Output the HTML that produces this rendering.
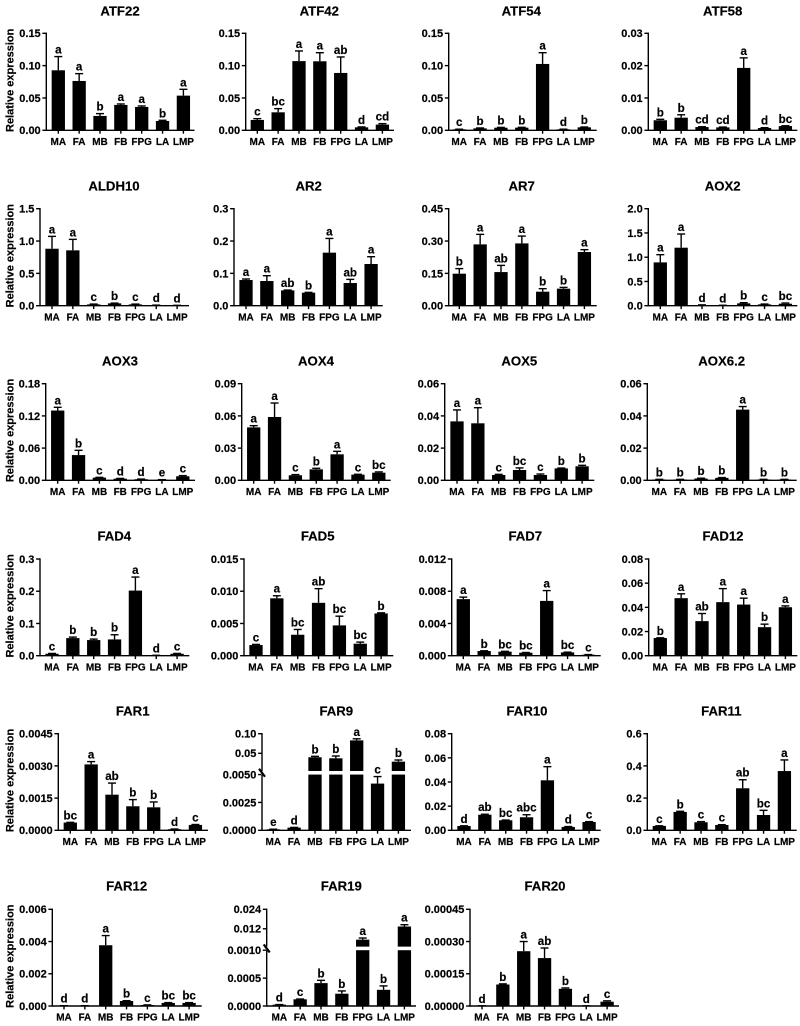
<!DOCTYPE html>
<html lang="en">
<head>
<meta charset="utf-8">
<title>Relative expression of 23 genes</title>
<style>
  html, body { margin: 0; padding: 0; background: #fff; }
  #figure { display: block; width: 800px; height: 1026px; filter: blur(0.25px); }
  text { font-family: "Liberation Sans", Arial, sans-serif; font-weight: bold; fill: #000; stroke: #000; stroke-width: 0.18px; }
</style>
</head>
<body>
<svg id="figure" xmlns="http://www.w3.org/2000/svg" width="800" height="1026" viewBox="0 0 800 1026"></svg>
<script>
/* ---------- shared data ---------- */
const tissues = ["MA", "FA", "MB", "FB", "FPG", "LA", "LMP"];
const yAxisTitle = "Relative expression";

/* ---------- per-chart data ---------- */
const atf22Values = [0.0928, 0.0763, 0.0222, 0.0392, 0.0361, 0.0144, 0.0536];
const atf22Errors = [0.0212, 0.0113, 0.0036, 0.0015, 0.0015, 0.0011, 0.0098];
const atf22Letters = ["a", "a", "b", "a", "a", "b", "a"];
const atf22Ticks = ["0.00", "0.05", "0.10", "0.15"];

const atf42Values = [0.016, 0.0278, 0.107, 0.1067, 0.0887, 0.0046, 0.0088];
const atf42Errors = [0.002, 0.0057, 0.0157, 0.0133, 0.0247, 0.0006, 0.0015];
const atf42Letters = ["c", "bc", "a", "a", "ab", "d", "cd"];
const atf42Ticks = ["0.00", "0.05", "0.10", "0.15"];

const atf54Values = [0.0015, 0.003, 0.004, 0.0041, 0.1026, 0.0015, 0.0046];
const atf54Errors = [0.0002, 0.0006, 0.0005, 0.0005, 0.0174, 0.0002, 0.0005];
const atf54Letters = ["c", "b", "b", "b", "a", "d", "b"];
const atf54Ticks = ["0.00", "0.05", "0.10", "0.15"];

const atf58Values = [0.0031, 0.0039, 0.001, 0.0009, 0.0193, 0.0007, 0.0013];
const atf58Errors = [0.0003, 0.0009, 0.0001, 0.0001, 0.0031, 0.0001, 0.0001];
const atf58Letters = ["b", "b", "cd", "cd", "a", "d", "bc"];
const atf58Ticks = ["0.00", "0.01", "0.02", "0.03"];

const aldh10Values = [0.881, 0.856, 0.02, 0.036, 0.02, 0.008, 0.005];
const aldh10Errors = [0.191, 0.17, 0.005, 0.004, 0.005, 0.001, 0.001];
const aldh10Letters = ["a", "a", "c", "b", "c", "d", "d"];
const aldh10Ticks = ["0.0", "0.5", "1.0", "1.5"];

const ar2Values = [0.0794, 0.0763, 0.0474, 0.0402, 0.164, 0.0701, 0.129];
const ar2Errors = [0.0031, 0.0165, 0.001, 0.001, 0.044, 0.0113, 0.0225];
const ar2Letters = ["a", "a", "ab", "b", "a", "ab", "a"];
const ar2Ticks = ["0.0", "0.1", "0.2", "0.3"];

const ar7Values = [0.1485, 0.2845, 0.156, 0.289, 0.065, 0.079, 0.249];
const ar7Errors = [0.0235, 0.0465, 0.031, 0.034, 0.014, 0.006, 0.011];
const ar7Letters = ["b", "a", "ab", "a", "b", "b", "a"];
const ar7Ticks = ["0.00", "0.15", "0.30", "0.45"];

const aox2Values = [0.893, 1.196, 0.014, 0.007, 0.048, 0.027, 0.041];
const aox2Errors = [0.159, 0.282, 0.003, 0.002, 0.014, 0.007, 0.014];
const aox2Letters = ["a", "a", "d", "d", "b", "c", "bc"];
const aox2Ticks = ["0.0", "0.5", "1.0", "1.5", "2.0"];

const aox3Values = [0.13, 0.047, 0.005, 0.003, 0.002, 0.001, 0.0075];
const aox3Errors = [0.006, 0.0089, 0.0005, 0.0005, 0.0003, 0.0002, 0.0012];
const aox3Letters = ["a", "b", "c", "d", "d", "e", "c"];
const aox3Ticks = ["0.00", "0.06", "0.12", "0.18"];

const aox4Values = [0.0493, 0.059, 0.0047, 0.0102, 0.0242, 0.0053, 0.0071];
const aox4Errors = [0.0016, 0.013, 0.0006, 0.001, 0.0028, 0.0003, 0.0007];
const aox4Letters = ["a", "a", "c", "b", "a", "c", "bc"];
const aox4Ticks = ["0.00", "0.03", "0.06", "0.09"];

const aox5Values = [0.0366, 0.0354, 0.0033, 0.0064, 0.0033, 0.0074, 0.0087];
const aox5Errors = [0.0071, 0.0097, 0.0004, 0.0013, 0.0006, 0.0002, 0.0006];
const aox5Letters = ["a", "a", "c", "bc", "c", "b", "b"];
const aox5Ticks = ["0.00", "0.02", "0.04", "0.06"];

const aox62Values = [0.0005, 0.0005, 0.0011, 0.0015, 0.0439, 0.0005, 0.0005];
const aox62Errors = [0.0001, 0.0001, 0.0002, 0.0002, 0.0019, 0.0001, 0.0001];
const aox62Letters = ["b", "b", "b", "b", "a", "b", "b"];
const aox62Ticks = ["0.00", "0.02", "0.04", "0.06"];

const fad4Values = [0.006, 0.0546, 0.0485, 0.0505, 0.202, 0.001, 0.006];
const fad4Errors = [0.001, 0.0031, 0.003, 0.0145, 0.042, 0.0003, 0.001];
const fad4Letters = ["c", "b", "b", "b", "a", "d", "c"];
const fad4Ticks = ["0.0", "0.1", "0.2", "0.3"];

const fad5Values = [0.00165, 0.0089, 0.00325, 0.0082, 0.0047, 0.00186, 0.00655];
const fad5Errors = [0.0001, 0.0004, 0.00082, 0.0022, 0.00143, 0.00025, 0.0001];
const fad5Letters = ["c", "a", "bc", "ab", "bc", "bc", "b"];
const fad5Ticks = ["0.000", "0.005", "0.010", "0.015"];

const fad7Values = [0.00702, 0.00058, 0.0005, 0.00037, 0.0068, 0.00041, 0.00012];
const fad7Errors = [0.00025, 0.00003, 0.00004, 0.00003, 0.00128, 0.00003, 0.00002];
const fad7Letters = ["a", "b", "bc", "bc", "a", "bc", "c"];
const fad7Ticks = ["0.000", "0.004", "0.008", "0.012"];

const fad12Values = [0.0146, 0.0476, 0.0286, 0.0443, 0.0423, 0.0236, 0.0401];
const fad12Errors = [0.0002, 0.0036, 0.0063, 0.0112, 0.0053, 0.0025, 0.0011];
const fad12Letters = ["b", "a", "ab", "a", "a", "b", "a"];
const fad12Ticks = ["0.00", "0.02", "0.04", "0.06", "0.08"];

const far1Values = [0.00036, 0.00307, 0.00166, 0.00112, 0.00107, 0.00005, 0.00025];
const far1Errors = [0.00001, 0.00013, 0.00054, 0.00031, 0.00025, 0.00001, 0.00002];
const far1Letters = ["bc", "a", "ab", "b", "b", "d", "c"];
const far1Ticks = ["0.0000", "0.0015", "0.0030", "0.0045"];

const far9Values = [0.00009, 0.00024, 0.04, 0.0373, 0.083, 0.00419, 0.0288];
const far9Errors = [0.00001, 0.00002, 0.0023, 0.0059, 0.004, 0.00063, 0.0042];
const far9Letters = ["e", "d", "b", "b", "a", "c", "b"];
const far9Ticks = ["0.0000", "0.0025", "0.0050", "0.05", "0.10"];
const far9AxisBreak = 0.005;

const far10Values = [0.0036, 0.0129, 0.0083, 0.0108, 0.0414, 0.0028, 0.0069];
const far10Errors = [0.0001, 0.0004, 0.0002, 0.0021, 0.0113, 0.0003, 0.0003];
const far10Letters = ["d", "ab", "bc", "abc", "a", "d", "c"];
const far10Ticks = ["0.00", "0.02", "0.04", "0.06", "0.08"];

const far11Values = [0.027, 0.114, 0.05, 0.033, 0.261, 0.095, 0.368];
const far11Errors = [0.001, 0.004, 0.004, 0.002, 0.053, 0.029, 0.069];
const far11Letters = ["c", "b", "c", "c", "ab", "bc", "a"];
const far11Ticks = ["0.0", "0.2", "0.4", "0.6"];

const far12Values = [0.00002, 0.00002, 0.00377, 0.00031, 0.00006, 0.00019, 0.00019];
const far12Errors = [0, 0, 0.0006, 0.00002, 0.00001, 0.00002, 0.00002];
const far12Letters = ["d", "d", "a", "b", "c", "bc", "bc"];
const far12Ticks = ["0.000", "0.002", "0.004", "0.006"];

const far19Values = [0.000024, 0.00012, 0.00041, 0.00022, 0.0053, 0.00029, 0.0134];
const far19Errors = [0.000002, 0.000005, 0.00005, 0.00005, 0.001, 0.00007, 0.0011];
const far19Letters = ["d", "c", "b", "b", "a", "b", "a"];
const far19Ticks = ["0.0000", "0.0005", "0.0010", "0.012", "0.024"];
const far19AxisBreak = 0.001;

const far20Values = [0.000001, 0.0001, 0.000255, 0.000223, 0.00008, 0.000001, 0.00002];
const far20Errors = [0, 0.000003, 0.000045, 0.000047, 0.000004, 0, 0.000004];
const far20Letters = ["d", "b", "a", "ab", "b", "d", "c"];
const far20Ticks = ["0.00000", "0.00015", "0.00030", "0.00045"];

/* ---------- chart list (data) ---------- */
const charts = [
  { title: "ATF22", values: atf22Values, errors: atf22Errors, letters: atf22Letters, ticks: atf22Ticks },
  { title: "ATF42", values: atf42Values, errors: atf42Errors, letters: atf42Letters, ticks: atf42Ticks },
  { title: "ATF54", values: atf54Values, errors: atf54Errors, letters: atf54Letters, ticks: atf54Ticks },
  { title: "ATF58", values: atf58Values, errors: atf58Errors, letters: atf58Letters, ticks: atf58Ticks },
  { title: "ALDH10", values: aldh10Values, errors: aldh10Errors, letters: aldh10Letters, ticks: aldh10Ticks },
  { title: "AR2", values: ar2Values, errors: ar2Errors, letters: ar2Letters, ticks: ar2Ticks },
  { title: "AR7", values: ar7Values, errors: ar7Errors, letters: ar7Letters, ticks: ar7Ticks },
  { title: "AOX2", values: aox2Values, errors: aox2Errors, letters: aox2Letters, ticks: aox2Ticks },
  { title: "AOX3", values: aox3Values, errors: aox3Errors, letters: aox3Letters, ticks: aox3Ticks },
  { title: "AOX4", values: aox4Values, errors: aox4Errors, letters: aox4Letters, ticks: aox4Ticks },
  { title: "AOX5", values: aox5Values, errors: aox5Errors, letters: aox5Letters, ticks: aox5Ticks },
  { title: "AOX6.2", values: aox62Values, errors: aox62Errors, letters: aox62Letters, ticks: aox62Ticks },
  { title: "FAD4", values: fad4Values, errors: fad4Errors, letters: fad4Letters, ticks: fad4Ticks },
  { title: "FAD5", values: fad5Values, errors: fad5Errors, letters: fad5Letters, ticks: fad5Ticks },
  { title: "FAD7", values: fad7Values, errors: fad7Errors, letters: fad7Letters, ticks: fad7Ticks },
  { title: "FAD12", values: fad12Values, errors: fad12Errors, letters: fad12Letters, ticks: fad12Ticks },
  { title: "FAR1", values: far1Values, errors: far1Errors, letters: far1Letters, ticks: far1Ticks },
  { title: "FAR9", values: far9Values, errors: far9Errors, letters: far9Letters, ticks: far9Ticks, axisBreak: far9AxisBreak },
  { title: "FAR10", values: far10Values, errors: far10Errors, letters: far10Letters, ticks: far10Ticks },
  { title: "FAR11", values: far11Values, errors: far11Errors, letters: far11Letters, ticks: far11Ticks },
  { title: "FAR12", values: far12Values, errors: far12Errors, letters: far12Letters, ticks: far12Ticks },
  { title: "FAR19", values: far19Values, errors: far19Errors, letters: far19Letters, ticks: far19Ticks, axisBreak: far19AxisBreak },
  { title: "FAR20", values: far20Values, errors: far20Errors, letters: far20Letters, ticks: far20Ticks }
];

/* ---------- layout (separate from data) ---------- */
const ROWS_PER_COLUMN = 4;
const rowFrames = [
  { top: 33.3, bottom: 130.3, titleY: 15.3 },
  { top: 208.7, bottom: 305.7, titleY: 190.3 },
  { top: 383.7, bottom: 480.3, titleY: 365.3 },
  { top: 559, bottom: 655.7, titleY: 540.3 },
  { top: 733.7, bottom: 830.3, titleY: 715.3 },
  { top: 909.3, bottom: 1006, titleY: 890.6 }
];
const frameX = [
  [46.3, 58.3, 194.5, 120], [245.7, 257.3, 394, 319.3], [448.7, 459.2, 596.7, 521.3], [648.3, 660.3, 797.3, 722.7],
  [40, 52, 189, 114], [234, 246, 382.7, 308.7], [448.7, 459.3, 596.7, 521.7], [648.3, 660.3, 797.3, 722.7],
  [45.7, 57.7, 195, 120], [241.7, 253.7, 390.7, 316], [444.7, 457, 594.3, 519.3], [647.3, 659.3, 796.7, 721.7],
  [40, 52, 189.3, 114.3], [244, 256, 393.3, 317.7], [451.7, 463.3, 600.7, 525.3], [648.7, 660.3, 797.3, 723],
  [58.3, 70.3, 208, 132.7], [262, 273.3, 411, 336.3], [451.7, 464, 600.7, 527], [647.3, 659.3, 796.7, 721.3],
  [52.3, 64, 201.7, 126.7], [266.7, 279.3, 416, 341.3], [470, 482, 619, 545]
];
const BAR_STEP = 20.85;
const BAR_WIDTH = 13.3;
const CAP_WIDTH = 8;
const LINE_WIDTH = 1.4;
const LOWER_SEGMENT_FRACTION = 0.577;
const UPPER_SEGMENT_FRACTION = 0.614;

/* ---------- drawing ---------- */
const SVG_NS = "http://www.w3.org/2000/svg";
const svgRoot = document.getElementById("figure");

function makeShape(tag, parent, props) {
  const node = document.createElementNS(SVG_NS, tag);
  for (const key in props) node.setAttribute(key, props[key]);
  parent.appendChild(node);
  return node;
}

function makeYScale(chart, top, bottom) {
  const height = bottom - top;
  const maxValue = Number(chart.ticks[chart.ticks.length - 1]);
  if (chart.axisBreak === undefined) {
    return function (v) { return bottom - (v / maxValue) * height; };
  }
  const brk = chart.axisBreak;
  return function (v) {
    if (v <= brk) return bottom - (v / brk) * height * LOWER_SEGMENT_FRACTION;
    return bottom - height * UPPER_SEGMENT_FRACTION - ((v - brk) / (maxValue - brk)) * height * (1 - UPPER_SEGMENT_FRACTION);
  };
}

charts.forEach(function (chart, chartIndex) {
  const rowIndex = Math.floor(chartIndex / ROWS_PER_COLUMN);
  const frame = rowFrames[rowIndex];
  const xs = frameX[chartIndex];
  const axisX = xs[0], firstBarX = xs[1], axisEndX = xs[2], titleX = xs[3];
  const top = frame.top, bottom = frame.bottom;
  const y = makeYScale(chart, top, bottom);
  const x = function (i) { return firstBarX + i * BAR_STEP; };
  const slug = chart.title.toLowerCase().replace(/\./g, "-");

  const group = makeShape("g", svgRoot, {});
  
  

  const title = makeShape("text", group, { x: titleX, y: frame.titleY, "text-anchor": "middle", "font-size": "13.2" });
  title.textContent = chart.title;
  
  

  if (chartIndex % ROWS_PER_COLUMN === 0) {
    const midY = (top + bottom) / 2 - 1.5;
    const yTitle = makeShape("text", group, { x: 0, y: 0, "text-anchor": "middle", "font-size": "11", transform: "translate(13.6 " + midY + ") rotate(-90)" });
    yTitle.textContent = yAxisTitle;
    
    
  }

  /* bars */
  chart.values.forEach(function (value, i) {
    const cx = x(i);
    const pieces = [];
    if (chart.axisBreak !== undefined && value > chart.axisBreak) {
      pieces.push([y(chart.axisBreak), bottom]);
      pieces.push([y(value), y(chart.axisBreak + 1e-12)]);
    } else {
      pieces.push([y(value), bottom]);
    }
    pieces.forEach(function (piece) {
      const bar = makeShape("rect", group, { x: cx - BAR_WIDTH / 2, y: piece[0], width: BAR_WIDTH, height: Math.max(piece[1] - piece[0], 0), fill: "#000" });
      
      
    });

    const errTop = y(value + chart.errors[i]);
    const stem = makeShape("line", group, { x1: cx, x2: cx, y1: y(value), y2: errTop, stroke: "#000", "stroke-width": LINE_WIDTH });
    
    
    const cap = makeShape("line", group, { x1: cx - CAP_WIDTH / 2, x2: cx + CAP_WIDTH / 2, y1: errTop, y2: errTop, stroke: "#000", "stroke-width": LINE_WIDTH });
    
    

    const letter = makeShape("text", group, { x: cx, y: errTop - 3, "text-anchor": "middle", "font-size": "11.6" });
    letter.textContent = chart.letters[i];
    
    

    const xTick = makeShape("line", group, { x1: cx, x2: cx, y1: bottom, y2: bottom + 3.4, stroke: "#000", "stroke-width": LINE_WIDTH });
    
    

    const xLabel = makeShape("text", group, { x: cx, y: bottom + 14.7, "text-anchor": "middle", "font-size": "10" });
    xLabel.textContent = tissues[i];
    
    
  });

  /* axes */
  const yAxisLine = makeShape("line", group, { x1: axisX, x2: axisX, y1: top - 0.7, y2: bottom + 0.7, stroke: "#000", "stroke-width": LINE_WIDTH });
  
  

  const xAxisLine = makeShape("line", group, { x1: axisX, x2: axisEndX, y1: bottom, y2: bottom, stroke: "#000", "stroke-width": LINE_WIDTH });
  
  

  chart.ticks.forEach(function (label) {
    const value = Number(label);
    const tickY = y(value);
    const yTick = makeShape("line", group, { x1: axisX - 3.9, x2: axisX, y1: tickY, y2: tickY, stroke: "#000", "stroke-width": LINE_WIDTH });
    
    
    const yLabel = makeShape("text", group, { x: axisX - 5.6, y: tickY + 3.9, "text-anchor": "end", "font-size": "11" });
    yLabel.textContent = label;
    
    
  });

  if (chart.axisBreak !== undefined) {
    const breakY = (y(chart.axisBreak) + y(chart.axisBreak + 1e-12)) / 2;
    const gapHeight = y(chart.axisBreak) - y(chart.axisBreak + 1e-12);
    const mask = makeShape("rect", group, { x: axisX - 0.8, y: breakY - gapHeight / 2, width: 1.6, height: gapHeight, fill: "#fff" });
    
    
    const slash = makeShape("line", group, { x1: axisX - 3, x2: axisX + 3, y1: breakY - 4, y2: breakY + 4, stroke: "#000", "stroke-width": "2.2" });
    
    
  }
});
</script>
</body>
</html>
